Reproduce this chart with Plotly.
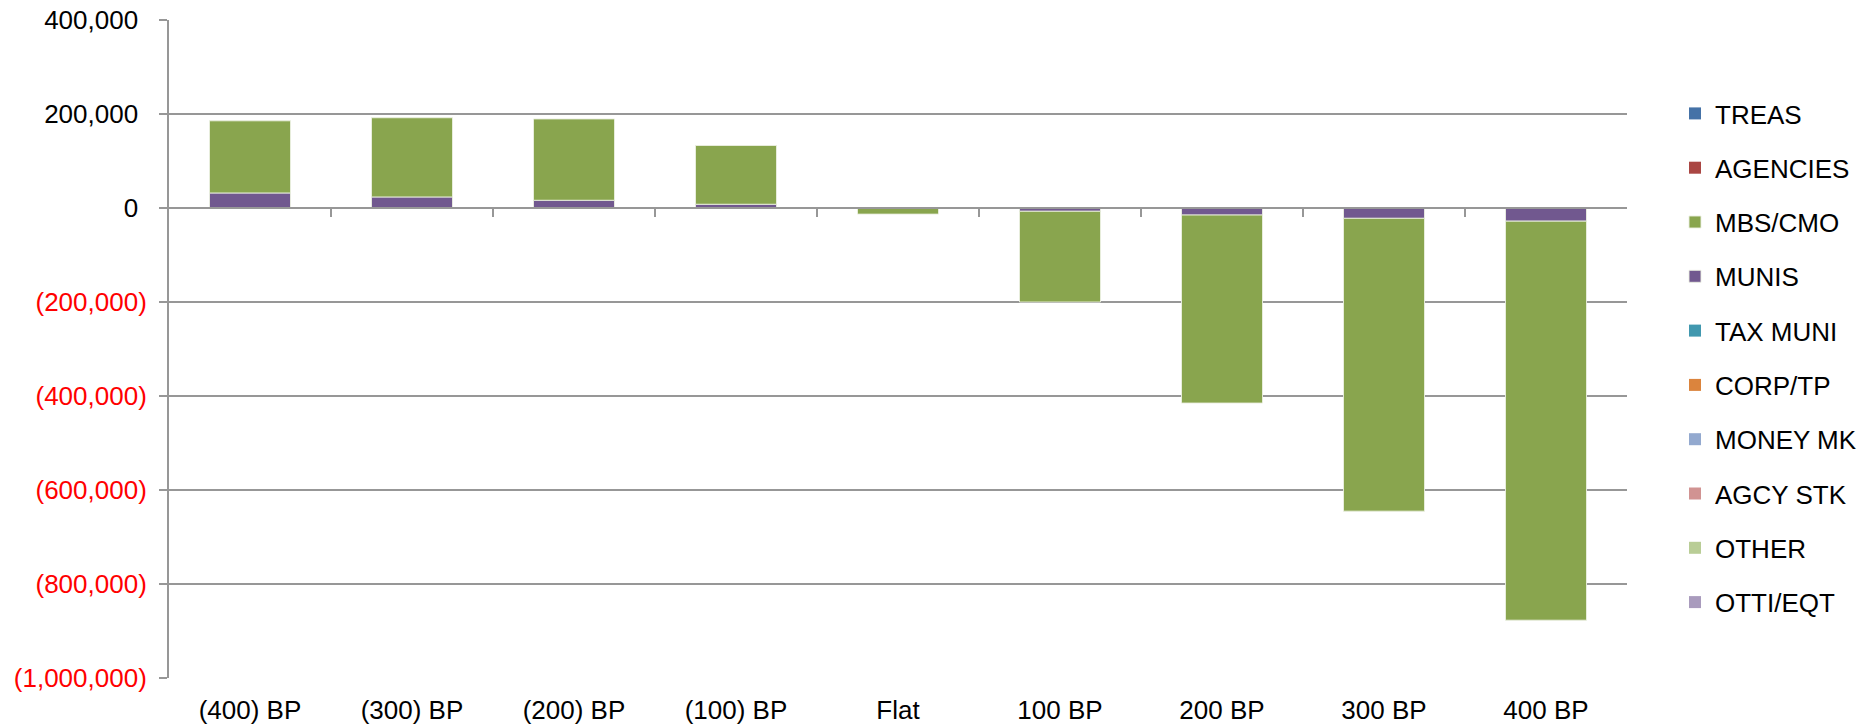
import plotly.graph_objects as go

categories = ["(400) BP", "(300) BP", "(200) BP", "(100) BP", "Flat",
              "100 BP", "200 BP", "300 BP", "400 BP"]

# legend order (top to bottom)
series_names = ["TREAS", "AGENCIES", "MBS/CMO", "MUNIS", "TAX MUNI",
                "CORP/TP", "MONEY MK", "AGCY STK", "OTHER", "OTTI/EQT"]
series_colors = ["#4572A7", "#AA4643", "#89A54E", "#71588F", "#4198AF",
                 "#DB843D", "#93A9CF", "#D19392", "#B9CD96", "#A99BBD"]

zeros = [0, 0, 0, 0, 0, 0, 0, 0, 0]
mbs_cmo = [153500, 168500, 173000, 125000, -12500, -193000, -400000, -623000, -849000]
munis = [32000, 23500, 16500, 8000, -500, -7000, -15000, -22000, -28000]

series_values = {
    "TREAS": zeros, "AGENCIES": zeros, "MBS/CMO": mbs_cmo, "MUNIS": munis,
    "TAX MUNI": zeros, "CORP/TP": zeros, "MONEY MK": zeros, "AGCY STK": zeros,
    "OTHER": zeros, "OTTI/EQT": zeros,
}

y_tickvals = [400000, 200000, 0, -200000, -400000, -600000, -800000, -1000000]
y_ticklabels = ["400,000", "200,000", "0", "(200,000)", "(400,000)",
                "(600,000)", "(800,000)", "(1,000,000)"]

FONT = "Liberation Sans, Arial, sans-serif"
GRID = "#979797"

L, R, T, B = 169, 248, 20, 48
W, H = 1875, 726
plot_w = W - L - R
plot_h = H - T - B

fig = go.Figure()
# traces added in reverse legend order so MUNIS sits next to zero
n = len(series_names)
for i in range(n - 1, -1, -1):
    name, color = series_names[i], series_colors[i]
    vals = series_values[name]
    has = any(v != 0 for v in vals)
    fig.add_trace(go.Bar(
        x=categories, y=vals, name=name, legendgroup=name, legendrank=i + 1,
        marker=dict(color=color,
                    line=dict(color="rgba(235,240,225,0.9)", width=1 if has else 0)),
    ))

# dummy trace for the zero-line category axis
fig.add_trace(go.Scatter(x=[None], y=[None], xaxis="x2", yaxis="y",
                         mode="markers", showlegend=False, hoverinfo="skip"))

def fmt_tick(lbl):
    if lbl.startswith("("):
        return "<span style='color:#ff0000'>" + lbl + "</span>"
    return lbl + "<span style='color:rgba(0,0,0,0)'>)</span>"

fig.update_layout(
    width=W, height=H,
    paper_bgcolor="white", plot_bgcolor="white",
    barmode="relative", bargap=0.5,
    margin=dict(l=L, r=R, t=T, b=B, autoexpand=False),
    font=dict(family=FONT, size=26, color="black"),
    xaxis=dict(type="category", showgrid=False, showline=False, ticks="",
               ticklabelstandoff=14, automargin=False,
               tickfont=dict(size=26, family=FONT, color="black"),
               zeroline=False),
    xaxis2=dict(overlaying="x", anchor="free", position=1000000 / 1400000,
                range=[-0.5, 8.5], showgrid=False, zeroline=False,
                showline=True, linecolor=GRID, linewidth=2, automargin=False,
                ticks="outside", ticklen=8, tickwidth=2, tickcolor=GRID,
                tickvals=[0.5, 1.5, 2.5, 3.5, 4.5, 5.5, 6.5, 7.5],
                showticklabels=False),
    yaxis=dict(range=[-1000000, 400000], tickvals=y_tickvals,
               ticktext=[fmt_tick(t) for t in y_ticklabels],
               showgrid=True, gridcolor=GRID, gridwidth=2,
               zeroline=False, showline=True, linecolor=GRID, linewidth=2,
               ticks="outside", ticklen=8, tickcolor=GRID, tickwidth=2,
               ticklabelstandoff=7, automargin=False,
               tickfont=dict(size=26, family=FONT, color="black")),
    legend=dict(traceorder="grouped", tracegroupgap=17.5,
                x=1 + (1675 - (W - R)) / plot_w, xanchor="left",
                y=(H - B - 90) / plot_h, yanchor="top",
                maxheight=700,
                font=dict(size=26, family=FONT, color="black"),
                bgcolor="rgba(0,0,0,0)"),
    showlegend=True,
)

fig.write_html("out.html", config={"displayModeBar": False},
               post_script="document.body.style.margin='0';")
